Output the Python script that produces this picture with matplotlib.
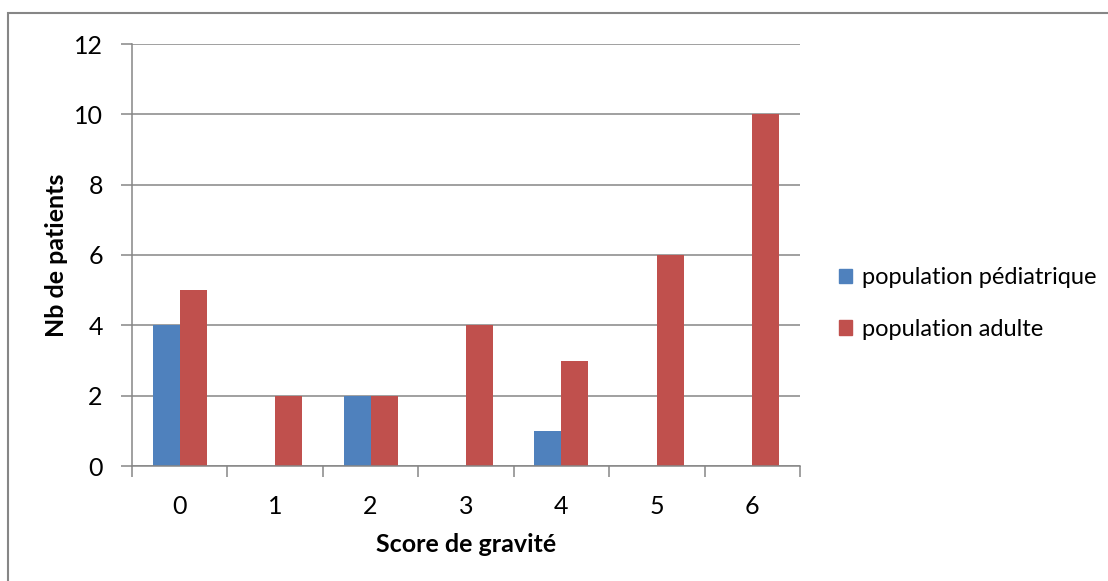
import matplotlib.pyplot as plt
from matplotlib.patches import Rectangle, Patch
from matplotlib.ticker import FixedLocator

# scores de gravité et nombre de patients par population
scores = [0, 1, 2, 3, 4, 5, 6]
pediatrique = [4, 0, 2, 0, 1, 0, 0]
adulte = [5, 2, 2, 4, 3, 6, 10]
y_ticks = [0, 2, 4, 6, 8, 10, 12]

blue = '#4F81BD'
red = '#C0504D'
gray = '#868686'

plt.rcParams['font.family'] = ['Lato', 'DejaVu Sans']

W, H = 1108, 581
fig = plt.figure(figsize=(W / 100, H / 100), dpi=100)
ax = fig.add_axes([132 / W, (H - 466) / H, (800 - 132) / W, (466 - 44) / H])

w = 0.283
ax.bar([s - w for s in scores], pediatrique, width=w, align='edge', color=blue, zorder=3)
ax.bar(scores, adulte, width=w, align='edge', color=red, zorder=3)

ax.set_xlim(-0.5, 6.5)
ax.set_ylim(0, 12)
ax.set_yticks(y_ticks)
ax.set_xticks(scores)
ax.xaxis.set_minor_locator(FixedLocator([s - 0.5 for s in scores] + [6.5]))
ax.tick_params(axis='x', which='major', length=0, labelsize=18, pad=21)
ax.tick_params(axis='x', which='minor', length=8, width=1.1, color=gray, direction='out')
ax.tick_params(axis='y', length=8, width=1.1, color=gray, direction='out', labelsize=18, pad=13)

ax.grid(axis='y', color=gray, linewidth=1.1, zorder=0)
for side in ['top', 'right']:
    ax.spines[side].set_visible(False)
for side in ['left', 'bottom']:
    ax.spines[side].set_color(gray)
    ax.spines[side].set_linewidth(1.1)
    ax.spines[side].set_zorder(4)

ax.set_xlabel('Score de gravité', fontsize=18, fontweight='bold', labelpad=11)
ax.set_ylabel('Nb de patients', fontsize=18, fontweight='bold', labelpad=4)

handles = [Patch(color=blue, label='population pédiatrique'),
           Patch(color=red, label='population adulte')]
fig.legend(handles=handles, loc='upper left', bbox_to_anchor=(818 / W, 1 - 246 / H),
           frameon=False, fontsize=17, handlelength=0.55, handleheight=0.55,
           handletextpad=0.4, labelspacing=1.3, borderpad=0.4)

# cadre extérieur du graphique
fig.patches.append(Rectangle((8 / W, -0.02), 1.1, 1 - 13 / H + 0.02,
                             transform=fig.transFigure, fill=False,
                             edgecolor=gray, linewidth=1.5))

fig.savefig('out.png', dpi=100)
